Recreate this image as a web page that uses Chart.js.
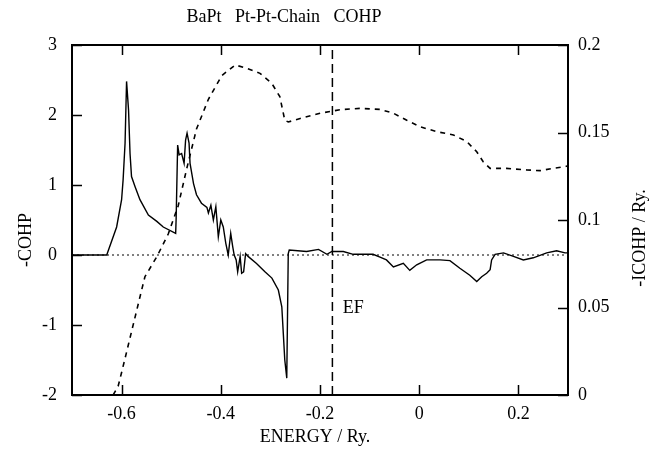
<!DOCTYPE html>
<html>
<head>
<meta charset="utf-8">
<script src="https://cdn.jsdelivr.net/npm/chart.js@4.4.1/dist/chart.umd.min.js"></script>
<style>
  html, body { margin: 0; padding: 0; background: #fff; }
  #wrap { width: 654px; height: 451px; position: relative; }
</style>
</head>
<body>
<div id="wrap"><canvas id="c" width="654" height="451"></canvas></div>
<script>
// ---- data ----
const chartTitle = 'BaPt   Pt-Pt-Chain   COHP';
const xTitle = 'ENERGY / Ry.';
const yTitle = '-COHP';
const y2Title = '-ICOHP / Ry.';
const fermiLabel = 'EF';
const fermiEnergy = -0.175;

const xTicks = [-0.6, -0.4, -0.2, 0, 0.2];
const yTicks = [-2, -1, 0, 1, 2, 3];
const y2Ticks = [0, 0.05, 0.1, 0.15, 0.2];

const cohpEnergy = [-0.700, -0.630, -0.610, -0.600, -0.597, -0.593, -0.590, -0.586, -0.583, -0.580, -0.573, -0.563, -0.546, -0.529, -0.516, -0.491, -0.490, -0.487, -0.484, -0.479, -0.474, -0.471, -0.468, -0.464, -0.462, -0.455, -0.449, -0.439, -0.428, -0.425, -0.420, -0.415, -0.410, -0.405, -0.400, -0.395, -0.390, -0.385, -0.380, -0.376, -0.373, -0.369, -0.366, -0.361, -0.358, -0.354, -0.350, -0.345, -0.328, -0.311, -0.297, -0.284, -0.277, -0.274, -0.271, -0.267, -0.264, -0.262, -0.227, -0.203, -0.186, -0.176, -0.153, -0.133, -0.093, -0.079, -0.066, -0.052, -0.032, -0.019, -0.005, 0.015, 0.042, 0.062, 0.082, 0.102, 0.116, 0.126, 0.136, 0.143, 0.146, 0.153, 0.170, 0.190, 0.210, 0.230, 0.257, 0.277, 0.294, 0.300];
const cohpValues = [0, 0, 0.40, 0.79, 1.07, 1.60, 2.48, 2.07, 1.45, 1.12, 0.98, 0.79, 0.57, 0.48, 0.40, 0.31, 0.53, 1.57, 1.43, 1.45, 1.31, 1.64, 1.74, 1.60, 1.31, 1.02, 0.86, 0.74, 0.68, 0.60, 0.71, 0.50, 0.69, 0.26, 0.50, 0.40, 0.17, 0.00, 0.31, 0.12, 0.00, -0.07, -0.24, -0.02, -0.26, -0.24, 0.02, -0.02, -0.12, -0.24, -0.33, -0.50, -0.74, -1.12, -1.50, -1.76, 0.02, 0.07, 0.05, 0.08, 0.01, 0.05, 0.05, 0.01, 0.01, -0.03, -0.07, -0.17, -0.12, -0.22, -0.14, -0.07, -0.07, -0.08, -0.19, -0.29, -0.38, -0.31, -0.26, -0.21, -0.07, 0.01, 0.03, -0.02, -0.07, -0.04, 0.03, 0.06, 0.03, 0.03];

const icohpEnergy = [-0.617, -0.607, -0.599, -0.587, -0.575, -0.563, -0.553, -0.529, -0.506, -0.486, -0.469, -0.449, -0.425, -0.398, -0.371, -0.348, -0.321, -0.297, -0.281, -0.271, -0.264, -0.240, -0.200, -0.160, -0.119, -0.079, -0.052, -0.025, 0.002, 0.035, 0.069, 0.096, 0.116, 0.129, 0.143, 0.176, 0.217, 0.244, 0.270, 0.294, 0.300];
const icohpValues = [0, 0.005, 0.014, 0.028, 0.042, 0.056, 0.0676, 0.079, 0.092, 0.108, 0.129, 0.152, 0.169, 0.1825, 0.1886, 0.1867, 0.1838, 0.178, 0.1705, 0.157, 0.156, 0.158, 0.161, 0.163, 0.1638, 0.1632, 0.161, 0.157, 0.1533, 0.1505, 0.1486, 0.1448, 0.139, 0.1333, 0.1295, 0.1295, 0.1286, 0.1282, 0.1295, 0.1305, 0.131];

const xMin = -0.7, xMax = 0.3, yMin = -2, yMax = 3, y2Min = 0, y2Max = 0.2;

// ---- build ----
const FONT = '"Liberation Serif", "Times New Roman", serif';
const FS = 18;
const fmt = v => String(Math.round(v * 1000) / 1000);

const cohpData = cohpEnergy.map((e, i) => ({ x: e, y: cohpValues[i] }));
const icohpData = icohpEnergy.map((e, i) => ({ x: e, y: icohpValues[i] }));
const zeroData = [{ x: xMin, y: 0 }, { x: xMax, y: 0 }];
const fermiData = [{ x: fermiEnergy, y: yMin }, { x: fermiEnergy, y: yMax }];

const frame = {
  id: 'frame',
  afterDraw(chart) {
    const ctx = chart.ctx, a = chart.chartArea;
    const xs = chart.scales.x, ys = chart.scales.y, y2s = chart.scales.y2;
    const TL = 10;
    ctx.save();
    ctx.strokeStyle = '#000';
    ctx.lineWidth = 1.5;
    ctx.beginPath();
    xTicks.forEach(v => {
      const px = Math.round(xs.getPixelForValue(v)) + 0.5;
      ctx.moveTo(px, a.bottom); ctx.lineTo(px, a.bottom - TL);
      ctx.moveTo(px, a.top); ctx.lineTo(px, a.top + TL);
    });
    yTicks.forEach(v => {
      const py = Math.round(ys.getPixelForValue(v)) + 0.5;
      ctx.moveTo(a.left, py); ctx.lineTo(a.left + TL, py);
    });
    y2Ticks.forEach(v => {
      const py = Math.round(y2s.getPixelForValue(v)) + 0.5;
      ctx.moveTo(a.right, py); ctx.lineTo(a.right - TL, py);
    });
    ctx.stroke();
    ctx.lineWidth = 2;
    ctx.strokeRect(a.left, a.top, a.right - a.left, a.bottom - a.top);

    ctx.fillStyle = '#000';
    ctx.font = FS + 'px ' + FONT;
    ctx.textAlign = 'center';
    ctx.textBaseline = 'middle';
    ctx.fillText(chartTitle, 284, 17);
    ctx.fillText(xTitle, (a.left + a.right) / 2 - 5, 437);
    ctx.fillText(fermiLabel, xs.getPixelForValue(-0.133), ys.getPixelForValue(-0.76));
    ctx.save();
    ctx.translate(26, 240);
    ctx.rotate(-Math.PI / 2);
    ctx.fillText(yTitle, 0, 0);
    ctx.restore();
    ctx.save();
    ctx.translate(640, 238);
    ctx.rotate(-Math.PI / 2);
    ctx.fillText(y2Title, 0, 0);
    ctx.restore();
    ctx.restore();
  }
};

new Chart(document.getElementById('c'), {
  type: 'line',
  data: {
    datasets: [
      { label: 'zero', data: zeroData, yAxisID: 'y', borderColor: '#000', borderWidth: 1, borderDash: [2, 3], pointRadius: 0 },
      { label: 'EF', data: fermiData, yAxisID: 'y', borderColor: '#000', borderWidth: 1.5, borderDash: [9, 5], pointRadius: 0 },
      { label: '-ICOHP', data: icohpData, yAxisID: 'y2', borderColor: '#000', borderWidth: 1.6, borderDash: [5, 5], pointRadius: 0 },
      { label: '-COHP', data: cohpData, yAxisID: 'y', borderColor: '#000', borderWidth: 1.4, pointRadius: 0 }
    ]
  },
  options: {
    responsive: false,
    animation: false,
    devicePixelRatio: 1,
    layout: { padding: { top: 45, left: 0, right: 0, bottom: 0 } },
    plugins: { legend: { display: false }, tooltip: { enabled: false }, title: { display: false } },
    elements: { line: { tension: 0 } },
    scales: {
      x: {
        type: 'linear', min: xMin, max: xMax,
        grid: { display: false, drawTicks: false },
        border: { display: false },
        afterBuildTicks: s => { s.ticks = xTicks.map(v => ({ value: v })); },
        afterFit: s => { s.height = 56; },
        ticks: { color: '#000', font: { family: FONT, size: FS }, padding: 8, maxRotation: 0, callback: v => fmt(v) }
      },
      y: {
        type: 'linear', position: 'left', min: yMin, max: yMax,
        grid: { display: false, drawTicks: false },
        border: { display: false },
        afterBuildTicks: s => { s.ticks = yTicks.map(v => ({ value: v })); },
        afterFit: s => { s.width = 72; },
        ticks: { color: '#000', font: { family: FONT, size: FS }, padding: 15, callback: v => fmt(v) }
      },
      y2: {
        type: 'linear', position: 'right', min: y2Min, max: y2Max,
        grid: { display: false, drawTicks: false },
        border: { display: false },
        afterBuildTicks: s => { s.ticks = y2Ticks.map(v => ({ value: v })); },
        afterFit: s => { s.width = 86; },
        ticks: { color: '#000', font: { family: FONT, size: FS }, padding: 10, callback: v => fmt(v) }
      }
    }
  },
  plugins: [frame]
});
</script>
</body>
</html>
